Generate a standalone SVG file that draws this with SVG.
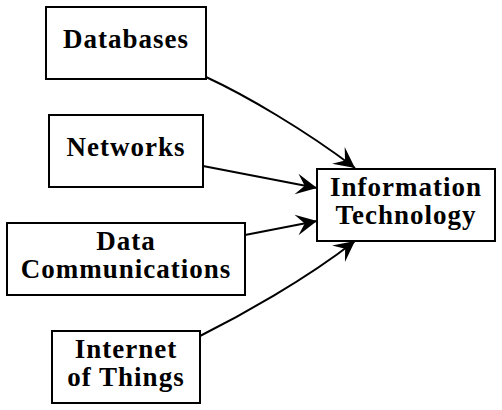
<svg xmlns="http://www.w3.org/2000/svg" width="502" height="410" viewBox="0 0 502 410">
<defs>
<marker id="vee" markerUnits="userSpaceOnUse" markerWidth="24" markerHeight="24" viewBox="-21 -11 23 22" refX="0" refY="0" orient="auto">
<path d="M0,0 L-20,-10 L-12,0 L-20,10 Z" fill="#000"/>
</marker>
<style>
.box{fill:#fff;stroke:#000;stroke-width:2}
.lbl{font-family:'Liberation Serif','DejaVu Serif','Times New Roman',serif;font-weight:bold;font-size:27px;letter-spacing:1px;text-anchor:middle;fill:#000}
.edge{fill:none;stroke:#000;stroke-width:2;marker-end:url(#vee)}
</style>
</defs>
<rect width="502" height="410" fill="#fff"/>
<g id="connectors">
<path class="edge" d="M206,77 C245,95 305,130 355,168"/>
<path class="edge" d="M203,166 L317,188"/>
<path class="edge" d="M245,235 L317,221"/>
<path class="edge" d="M200,336 C240,316 305,280 355,241"/>
</g>
<g id="databases">
<rect class="box" x="46" y="7" width="160" height="72"/>
<text class="lbl" x="126" y="48">Databases</text>
</g>
<g id="networks">
<rect class="box" x="49" y="115" width="154" height="72"/>
<text class="lbl" x="126" y="156">Networks</text>
</g>
<g id="datacomm">
<rect class="box" x="7" y="223" width="238" height="72"/>
<text class="lbl" x="126" y="250">Data</text>
<text class="lbl" x="126" y="278">Communications</text>
</g>
<g id="iot">
<rect class="box" x="52" y="331" width="148" height="72"/>
<text class="lbl" x="126" y="358">Internet</text>
<text class="lbl" x="126" y="386">of Things</text>
</g>
<g id="it">
<rect class="box" x="317" y="169" width="178" height="72"/>
<text class="lbl" x="406" y="196">Information</text>
<text class="lbl" x="406" y="224">Technology</text>
</g>
</svg>
